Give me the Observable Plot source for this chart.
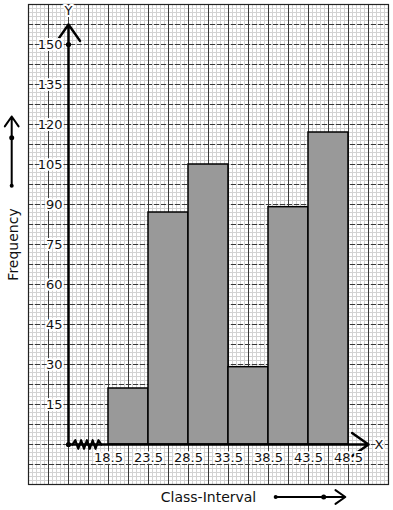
<!DOCTYPE html>
<html>
<head>
<meta charset="utf-8">
<script src="https://cdn.jsdelivr.net/npm/d3@7"></script>
<script src="https://cdn.jsdelivr.net/npm/@observablehq/plot@0.6"></script>
<style>
  html, body { margin: 0; padding: 0; background: #fff; }
  #chart svg { display: block; }
</style>
</head>
<body>
<div id="chart"></div>
<script>
// ---- data ----
const classLower = [18.5, 23.5, 28.5, 33.5, 38.5, 43.5];
const classUpper = [23.5, 28.5, 33.5, 38.5, 43.5, 48.5];
const frequency  = [21, 87, 105, 29, 89, 117];
const yTicks = [15, 30, 45, 60, 75, 90, 105, 120, 135, 150];
const xTicks = [18.5, 23.5, 28.5, 33.5, 38.5, 43.5, 48.5];
const originX = 13.5;
const xDomain = [8.5, 53.5];
const yDomain = [-15, 165];

const bars = classLower.map((lo, i) => ({lo, hi: classUpper[i], f: frequency[i]}));

// graph-paper grid (generated ranges)
const minorX = d3.range(0, 91).map(i => 8.5 + i * 0.5);
const minorY = d3.range(0, 121).map(i => -15 + i * 1.5);
const majorX = d3.range(0, 19).map(i => 8.5 + i * 2.5);
const majorY = d3.range(0, 25).map(i => -15 + i * 7.5);

// axis break zigzag (data units)
const zig = d3.range(0, 11).map(i => ({x: 14.0 + i * 0.36, y: i === 0 || i === 10 ? 0 : (i % 2 ? 1.6 : -1.6)}));

// decorative arrows in margins
const freqArrow = [{x: 6.4, y1: 97, y2: 123, dot: 115}];
const classArrow = [{x1: 39.4, x2: 48.1, y: -19.7, dot: 45.4}];

const font = "DejaVu Sans, sans-serif";

const chart = Plot.plot({
  width: 393,
  height: 510,
  marginLeft: 28,
  marginRight: 5,
  marginTop: 4,
  marginBottom: 26,
  x: {domain: xDomain, axis: null},
  y: {domain: yDomain, axis: null},
  style: {fontFamily: font, background: "white"},
  marks: [
    Plot.ruleX(minorX, {stroke: "#d2d2d2", strokeWidth: 1}),
    Plot.ruleY(minorY, {stroke: "#d2d2d2", strokeWidth: 1}),
    Plot.ruleX(majorX, {stroke: "#3a3a3a", strokeWidth: 1}),
    Plot.ruleY(majorY, {stroke: "#3a3a3a", strokeWidth: 1, strokeDasharray: "5,2"}),
    Plot.frame({stroke: "#222", strokeWidth: 1.2}),
    Plot.rect(bars, {x1: "lo", x2: "hi", y1: 0, y2: "f", fill: "#999999", stroke: "black", strokeWidth: 1.5}),
    // y axis with arrow
    Plot.arrow([{x: originX, y1: 0, y2: 157.5}], {x: "x", y1: "y1", y2: "y2", stroke: "black", strokeWidth: 2.5, headLength: 12, headAngle: 70}),
    // x axis with arrow
    Plot.arrow([{y: 0, x1: originX, x2: 51.0}], {x1: "x1", x2: "x2", y: "y", stroke: "black", strokeWidth: 2.5, headLength: 12, headAngle: 70}),
    Plot.line(zig, {x: "x", y: "y", stroke: "black", strokeWidth: 2.2}),
    Plot.dot([{x: originX, y: 0}, {x: originX, y: 150}], {x: "x", y: "y", r: 2.6, fill: "black"}),
    // tick labels
    Plot.text(yTicks, {x: originX, y: d => d, text: d => String(d), textAnchor: "end", dx: -6, fontSize: 13, fill: "#111", stroke: "white", strokeWidth: 4, paintOrder: "stroke"}),
    Plot.text(xTicks, {x: d => d, y: 0, text: d => String(d), dy: 13, fontSize: 13, fill: "#111", stroke: "white", strokeWidth: 4, paintOrder: "stroke"}),
    Plot.text(["Y"], {x: originX, y: 164, text: d => d, dy: 4, fontSize: 13, fill: "#111", stroke: "white", strokeWidth: 4, paintOrder: "stroke"}),
    Plot.text(["X"], {x: 52.3, y: 0, text: d => d, fontSize: 13, fill: "#111", stroke: "white", strokeWidth: 4, paintOrder: "stroke"}),
    // axis titles
    Plot.text(["Frequency"], {x: 6.6, y: 75, text: d => d, rotate: -90, fontSize: 14, fill: "#111"}),
    Plot.text(["Class-Interval"], {x: 31.0, y: -19.7, text: d => d, fontSize: 14, fill: "#111"}),
    // decorative arrows
    Plot.arrow(freqArrow, {x: "x", y1: "y1", y2: "y2", stroke: "black", strokeWidth: 2, headLength: 9, headAngle: 70}),
    Plot.dot(freqArrow, {x: "x", y: "dot", r: 2.5, fill: "black"}),
    Plot.dot(freqArrow, {x: "x", y: "y1", r: 2, fill: "black"}),
    Plot.arrow(classArrow, {x1: "x1", x2: "x2", y: "y", stroke: "black", strokeWidth: 2, headLength: 9, headAngle: 70}),
    Plot.dot(classArrow, {x: "dot", y: "y", r: 2.5, fill: "black"}),
    Plot.dot(classArrow, {x: "x1", y: "y", r: 2, fill: "black"})
  ]
});
document.getElementById("chart").append(chart);
</script>
</body>
</html>
